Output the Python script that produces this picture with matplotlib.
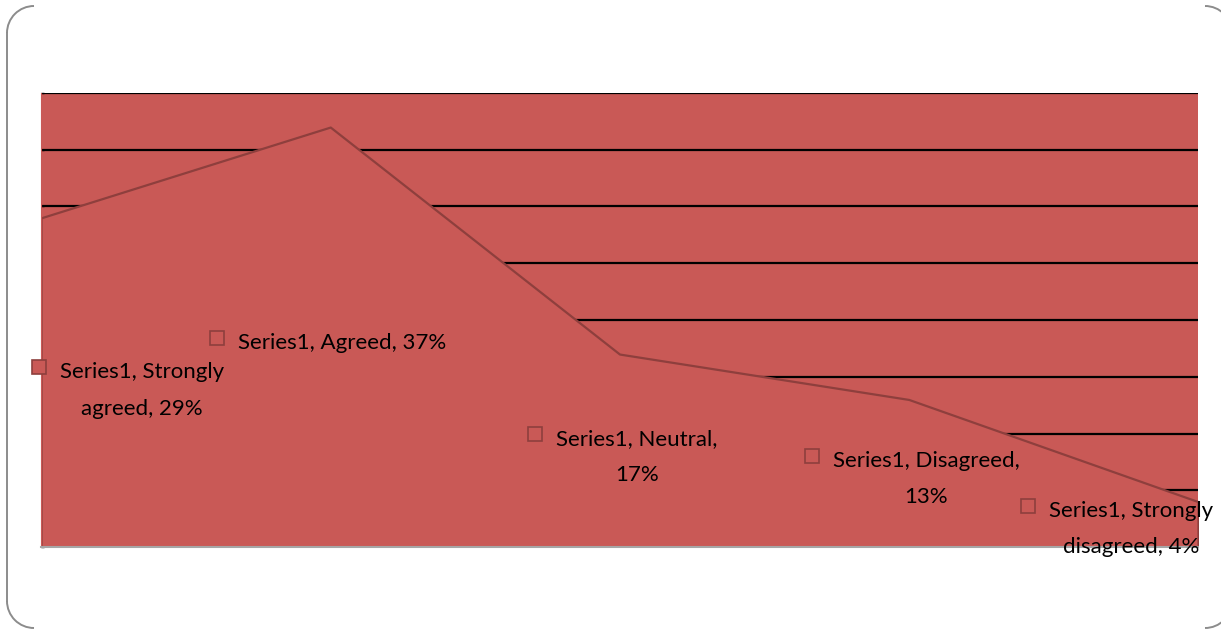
import matplotlib
matplotlib.use("Agg")
import matplotlib.pyplot as plt
from matplotlib.patches import Rectangle, Arc
from matplotlib.lines import Line2D

categories = ["Strongly agreed", "Agreed", "Neutral", "Disagreed", "Strongly disagreed"]
values = [29, 37, 17, 13, 4]
series_name = "Series1"

# label text lines and their centre (x in category units, y in value units)
label_lines = [
    ["Series1, Strongly", "agreed, 29%"],
    ["Series1, Agreed, 37%"],
    ["Series1, Neutral,", "17%"],
    ["Series1, Disagreed,", "13%"],
    ["Series1, Strongly", "disagreed, 4%"],
]
label_pos = [(0.35, 13.8), (1.04, 18.0), (2.06, 7.9), (3.06, 6.0), (3.77, 1.6)]

fill = "#C95956"
edge = "#8E3F3D"

plt.rcParams["font.family"] = ["Lato", "DejaVu Sans"]

fig = plt.figure(figsize=(12.21, 6.3), dpi=100)
ax = fig.add_axes([41 / 1221, 1 - 547 / 630, 1157 / 1221, 454 / 630])
ax.set_facecolor(fill)

x = list(range(len(values)))
ax.set_xlim(0, len(values) - 1)
ax.set_ylim(0, 40)
ax.set_yticks(range(0, 41, 5))
ax.set_xticks([])
ax.yaxis.grid(True, color="black", linewidth=1.6, zorder=1)
ax.set_axisbelow(True)
ax.tick_params(axis="y", length=2, width=1, direction="in", labelleft=False, color="black")

ax.fill_between(x, values, 0, facecolor=fill, edgecolor=edge, linewidth=1.6, zorder=2)

for s in ["top", "right"]:
    ax.spines[s].set_visible(False)
ax.spines["left"].set_color(fill)
ax.spines["bottom"].set_color("#A6A6A6")
ax.spines["bottom"].set_linewidth(1.5)

line_gap = 1.6  # value units between the two lines of a label
first_lines = []
for lines, (lx, ly) in zip(label_lines, label_pos):
    n = len(lines)
    for i, line in enumerate(lines):
        yy = ly + (n - 1) * line_gap - i * 2 * line_gap
        t = ax.text(lx, yy, line, ha="center", va="center", fontsize=16,
                    color="black", zorder=5, clip_on=False)
        if i == 0:
            first_lines.append(t)

# legend keys drawn just left of each label's first line
fig.canvas.draw()
renderer = fig.canvas.get_renderer()
for t in first_lines:
    bb = t.get_window_extent(renderer)
    size = 14
    x0 = bb.x0 - 14 - size
    y0 = (bb.y0 + bb.y1) / 2 + 5 - size / 2
    key = Rectangle((x0, y0), size, size, transform=None,
                    facecolor=fill, edgecolor=edge, linewidth=1.2, zorder=6)
    fig.add_artist(key)

# rounded chart border (only the left side and corners fall inside the image)
grey = "#8C8C8C"
r = 27
W, H = 1221, 630
fig.add_artist(Line2D([7, 7], [29, H - 33], transform=None, color=grey, linewidth=1.4))
for cx, cy, a0, a1 in [(7 + r, H - 6 - r, 90, 180), (7 + r, 2 + r, 180, 270),
                       (1205, H - 6 - r, 0, 90), (1205, 2 + r, 270, 360)]:
    fig.add_artist(Arc((cx, cy), 2 * r, 2 * r, theta1=a0, theta2=a1,
                       transform=None, color=grey, linewidth=1.4))

fig.savefig("out.png", dpi=100)
